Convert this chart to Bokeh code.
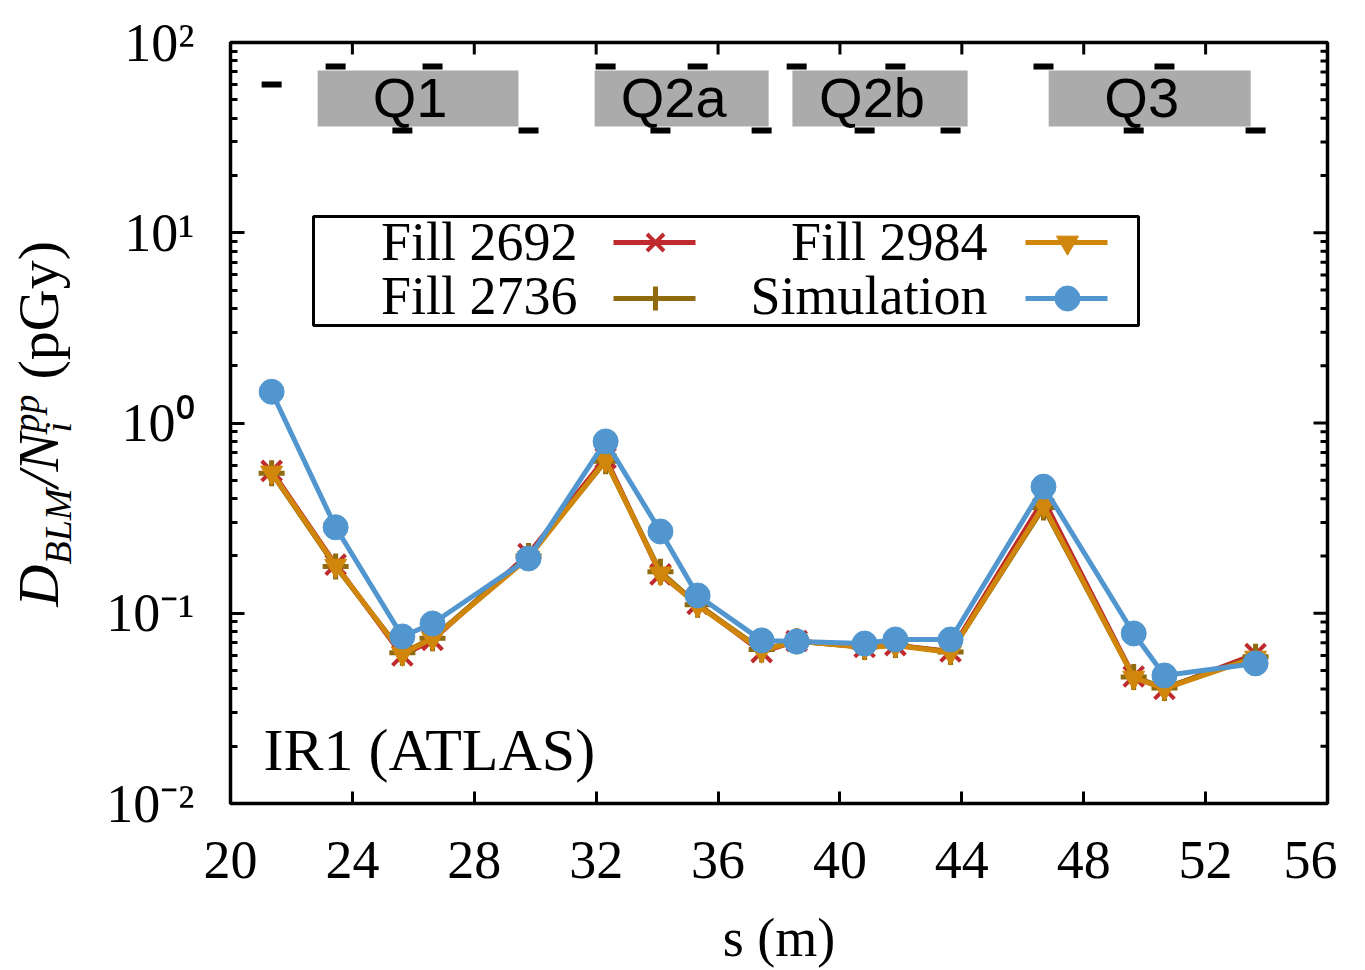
import numpy as np
from math import pi
from bokeh.plotting import figure
from bokeh.layouts import row
from bokeh.models import FixedTicker, Label, BoxAnnotation, Range1d
from bokeh.core.properties import value
from bokeh.embed import file_html
from bokeh.resources import INLINE

# ---------------- data ----------------
blm_s = [21.35, 23.45, 25.64, 26.63, 29.78, 32.31, 34.11, 35.33, 37.43,
         38.58, 40.81, 41.82, 43.63, 46.68, 49.64, 50.65, 53.64]
fill_2692 = [0.560, 0.180, 0.0600, 0.0725, 0.205, 0.655, 0.160, 0.112, 0.0625,
             0.0715, 0.0665, 0.0680, 0.0630, 0.395, 0.0465, 0.0400, 0.0610]
fill_2736 = [0.545, 0.176, 0.0620, 0.0740, 0.200, 0.630, 0.165, 0.111, 0.0645,
             0.0712, 0.0665, 0.0680, 0.0625, 0.360, 0.0462, 0.0405, 0.0590]
fill_2984 = [0.550, 0.178, 0.0613, 0.0736, 0.196, 0.636, 0.162, 0.110, 0.0637,
             0.0714, 0.0661, 0.0677, 0.0622, 0.368, 0.0459, 0.0402, 0.0585]
simulation = [1.46, 0.283, 0.0755, 0.0883, 0.194, 0.80, 0.269, 0.124, 0.072,
              0.0710, 0.0693, 0.0728, 0.0728, 0.463, 0.0783, 0.0471, 0.0545]

magnet_names = ["Q1", "Q2a", "Q2b", "Q3"]
magnet_start = [22.86, 31.95, 38.44, 46.85]
magnet_end = [29.45, 37.66, 44.19, 53.48]

x_ticks = [20, 24, 28, 32, 36, 40, 44, 48, 52, 56]
y_ticks = [0.01, 0.1, 1, 10, 100]
y_tick_labels = ["10\u207b\u00b2", "10\u207b\u00b9", "10\u2070", "10\u00b9", "10\u00b2"]
series_labels = ["Fill 2692", "Fill 2736", "Fill 2984", "Simulation"]
ylabel_parts = ["D", "BLM", "/N", "i", "pp", "(pGy)"]

# ---------------- layout / style ----------------
FRAME_W, FRAME_H = 1097, 761
BORDER_TOP, BORDER_BOTTOM = 42, 200
SIDE_W = 90                                # width of the y-label strip
BORDER_LEFT = 230 - SIDE_W
TOTAL_H = BORDER_TOP + FRAME_H + BORDER_BOTTOM
X_RANGE = (20, 56)
Y_RANGE = (0.01, 100)
SERIF = "Liberation Serif"
SANS = "Liberation Sans"
FS = "54px"
C_RED, C_OLIVE, C_ORANGE, C_BLUE = "#BE2A2E", "#8F6A0E", "#D0860A", "#5296CF"
BOX_TOP, BOX_BOTTOM = 71.3, 36.2          # magnet boxes (y values)
DASH_MID, DASH_TOP, DASH_BOT = 60.1, 74.8, 34.5
LW = 5


def fx(dx):
    """frame-pixel offset from left -> data x"""
    return X_RANGE[0] + dx / FRAME_W * (X_RANGE[1] - X_RANGE[0])


def fy(dy):
    """frame-pixel offset from bottom -> data y (log)"""
    l0, l1 = np.log10(Y_RANGE[0]), np.log10(Y_RANGE[1])
    return 10 ** (l0 + dy / FRAME_H * (l1 - l0))


minor = [m * 10.0 ** e for e in range(-2, 2) for m in range(2, 10)]

p = figure(frame_width=FRAME_W, frame_height=FRAME_H,
           x_range=X_RANGE, y_range=Y_RANGE, y_axis_type="log",
           output_backend="svg", toolbar_location=None,
           min_border_left=BORDER_LEFT, min_border_right=10,
           min_border_top=BORDER_TOP, min_border_bottom=BORDER_BOTTOM)
p.grid.visible = False
p.background_fill_color = "white"
p.border_fill_color = "white"
p.outline_line_color = "black"
p.outline_line_width = 3.5
p.outline_line_alpha = 1.0

xt = FixedTicker(ticks=x_ticks, minor_ticks=[])
yt = FixedTicker(ticks=y_ticks, minor_ticks=minor)


def style_axis(ax):
    ax.axis_line_color = None
    ax.major_tick_in = 14
    ax.major_tick_out = 0
    ax.minor_tick_in = 7
    ax.minor_tick_out = 0
    ax.major_tick_line_width = 3
    ax.minor_tick_line_width = 3
    ax.major_tick_line_color = "black"
    ax.minor_tick_line_color = "black"
    ax.major_label_text_font = SERIF
    ax.major_label_text_color = "black"
    ax.major_label_text_font_size = FS


xa = p.xaxis[0]
xa.ticker = xt
style_axis(xa)
xa.major_tick_in = 12
xa.major_label_standoff = 38
xa.axis_label = "s (m)"
xa.axis_label_text_font = SERIF
xa.axis_label_text_font_size = FS
xa.axis_label_text_font_style = "normal"
xa.axis_label_text_color = "black"
xa.axis_label_standoff = 27

ya = p.yaxis[0]
ya.ticker = yt
style_axis(ya)
ya.major_label_standoff = 36
ya.major_label_overrides = {t: lab for t, lab in zip(y_ticks, y_tick_labels)}

# mirrored inward ticks on top and right edges (half clipped by the frame)
p.rect(x=x_ticks, y=[Y_RANGE[1]] * len(x_ticks), width=3, height=24,
       width_units="screen", height_units="screen", fill_color="black", line_color=None)
p.rect(x=[X_RANGE[1]] * len(y_ticks), y=y_ticks, width=28, height=3,
       width_units="screen", height_units="screen", fill_color="black", line_color=None)
p.rect(x=[X_RANGE[1]] * len(minor), y=minor, width=14, height=3,
       width_units="screen", height_units="screen", fill_color="black", line_color=None)

# ---------------- magnets and BLM positions ----------------
p.quad(left=magnet_start, right=magnet_end,
       bottom=[BOX_BOTTOM] * len(magnet_names), top=[BOX_TOP] * len(magnet_names),
       fill_color="#ABABAB", line_color=None)
p.text(x=[(a + b) / 2 for a, b in zip(magnet_start, magnet_end)],
       y=[np.sqrt(BOX_TOP * BOX_BOTTOM)] * len(magnet_names), text=magnet_names,
       text_font=value(SANS), text_font_size="56px", text_color="black",
       text_align="center", text_baseline="middle", x_offset=-8, y_offset=-1)
dash_y = [DASH_MID] + [DASH_TOP if i % 2 == 0 else DASH_BOT for i in range(len(blm_s) - 1)]
p.rect(x=blm_s, y=dash_y, width=20, height=6, width_units="screen",
       height_units="screen", fill_color="black", line_color=None)

# ---------------- series ----------------
p.line(blm_s, fill_2692, line_color=C_RED, line_width=LW)
p.scatter(blm_s, fill_2692, marker="x", size=28, line_color=C_RED, line_width=4)
p.line(blm_s, fill_2736, line_color=C_OLIVE, line_width=LW)
p.scatter(blm_s, fill_2736, marker="cross", size=26, line_color=C_OLIVE, line_width=5)
p.line(blm_s, fill_2984, line_color=C_ORANGE, line_width=LW)
p.scatter(blm_s, fill_2984, marker="inverted_triangle", size=22,
          fill_color=C_ORANGE, line_color=C_ORANGE)
p.line(blm_s, simulation, line_color=C_BLUE, line_width=LW)
p.scatter(blm_s, simulation, marker="circle", size=25,
          fill_color=C_BLUE, line_color=C_BLUE)

# ---------------- legend (gnuplot style: text then sample) ----------------
p.add_layout(BoxAnnotation(left=83, right=908, bottom=478, top=587,
                           left_units="screen", right_units="screen",
                           bottom_units="screen", top_units="screen",
                           fill_color="white", fill_alpha=1.0,
                           line_color="black", line_alpha=1.0, line_width=3,
                           level="underlay"))
leg_rows = [561, 505]
leg_text_y = [561.5, 508]
leg_text_x = [347, 757]
leg_line = [(383, 465, 425), (795, 877, 837)]
leg_spec = [
    (0, 0, C_RED, "x", 24, dict(line_color=C_RED, line_width=4)),
    (0, 1, C_OLIVE, "cross", 24, dict(line_color=C_OLIVE, line_width=5)),
    (1, 0, C_ORANGE, "inverted_triangle", 22, dict(fill_color=C_ORANGE, line_color=C_ORANGE)),
    (1, 1, C_BLUE, "circle", 25, dict(fill_color=C_BLUE, line_color=C_BLUE)),
]
for (col, rw, color, marker, size, kw), lab in zip(leg_spec, series_labels):
    a, b, m = leg_line[col]
    yy = fy(leg_rows[rw])
    p.line([fx(a), fx(b)], [yy, yy], line_color=color, line_width=LW)
    p.scatter([fx(m)], [yy], marker=marker, size=size, **kw)
    p.add_layout(Label(x=leg_text_x[col], y=leg_text_y[rw],
                       x_units="screen", y_units="screen", text=lab,
                       text_font=SERIF, text_font_size=FS, text_color="black",
                       text_align="right", text_baseline="middle"))

# ---------------- region label ----------------
p.add_layout(Label(x=33, y=54, x_units="screen", y_units="screen",
                   text="IR1 (ATLAS)", text_font=SERIF, text_font_size="60px",
                   text_color="black", text_align="left", text_baseline="middle"))

# ---------------- y-axis label strip (rotated pieces) ----------------
# the strip's frame is aligned with the main frame (rows align frames),
# so its ranges are expressed in page pixels: x 0..SIDE_W, y 803 (bottom) .. 42 (top)
side = figure(width=SIDE_W, height=TOTAL_H,
              x_range=Range1d(0, SIDE_W),
              y_range=Range1d(BORDER_TOP + FRAME_H, BORDER_TOP),
              x_axis_location=None, y_axis_location=None,
              output_backend="svg", toolbar_location=None,
              min_border_left=0, min_border_right=0,
              min_border_top=BORDER_TOP, min_border_bottom=BORDER_BOTTOM)
side.grid.visible = False
side.outline_line_color = None
side.background_fill_color = "white"
side.border_fill_color = "white"
yl_x = [38, 57, 38, 57, 25, 38]
yl_y = [606, 564, 487, 432, 432, 379]
yl_size = ["58px", "38px", "58px", "38px", "38px", "58px"]
yl_style = ["italic", "italic", "italic", "italic", "italic", "normal"]
for txt, sx, sy, fs, st in zip(ylabel_parts, yl_x, yl_y, yl_size, yl_style):
    side.text(x=[sx], y=[sy], text=[txt], angle=pi / 2, text_font=value(SERIF),
              text_font_size=fs, text_font_style=st, text_color="black",
              text_align="left", text_baseline="middle")

layout = row(side, p)
open("out.html", "w").write(file_html(layout, INLINE))
